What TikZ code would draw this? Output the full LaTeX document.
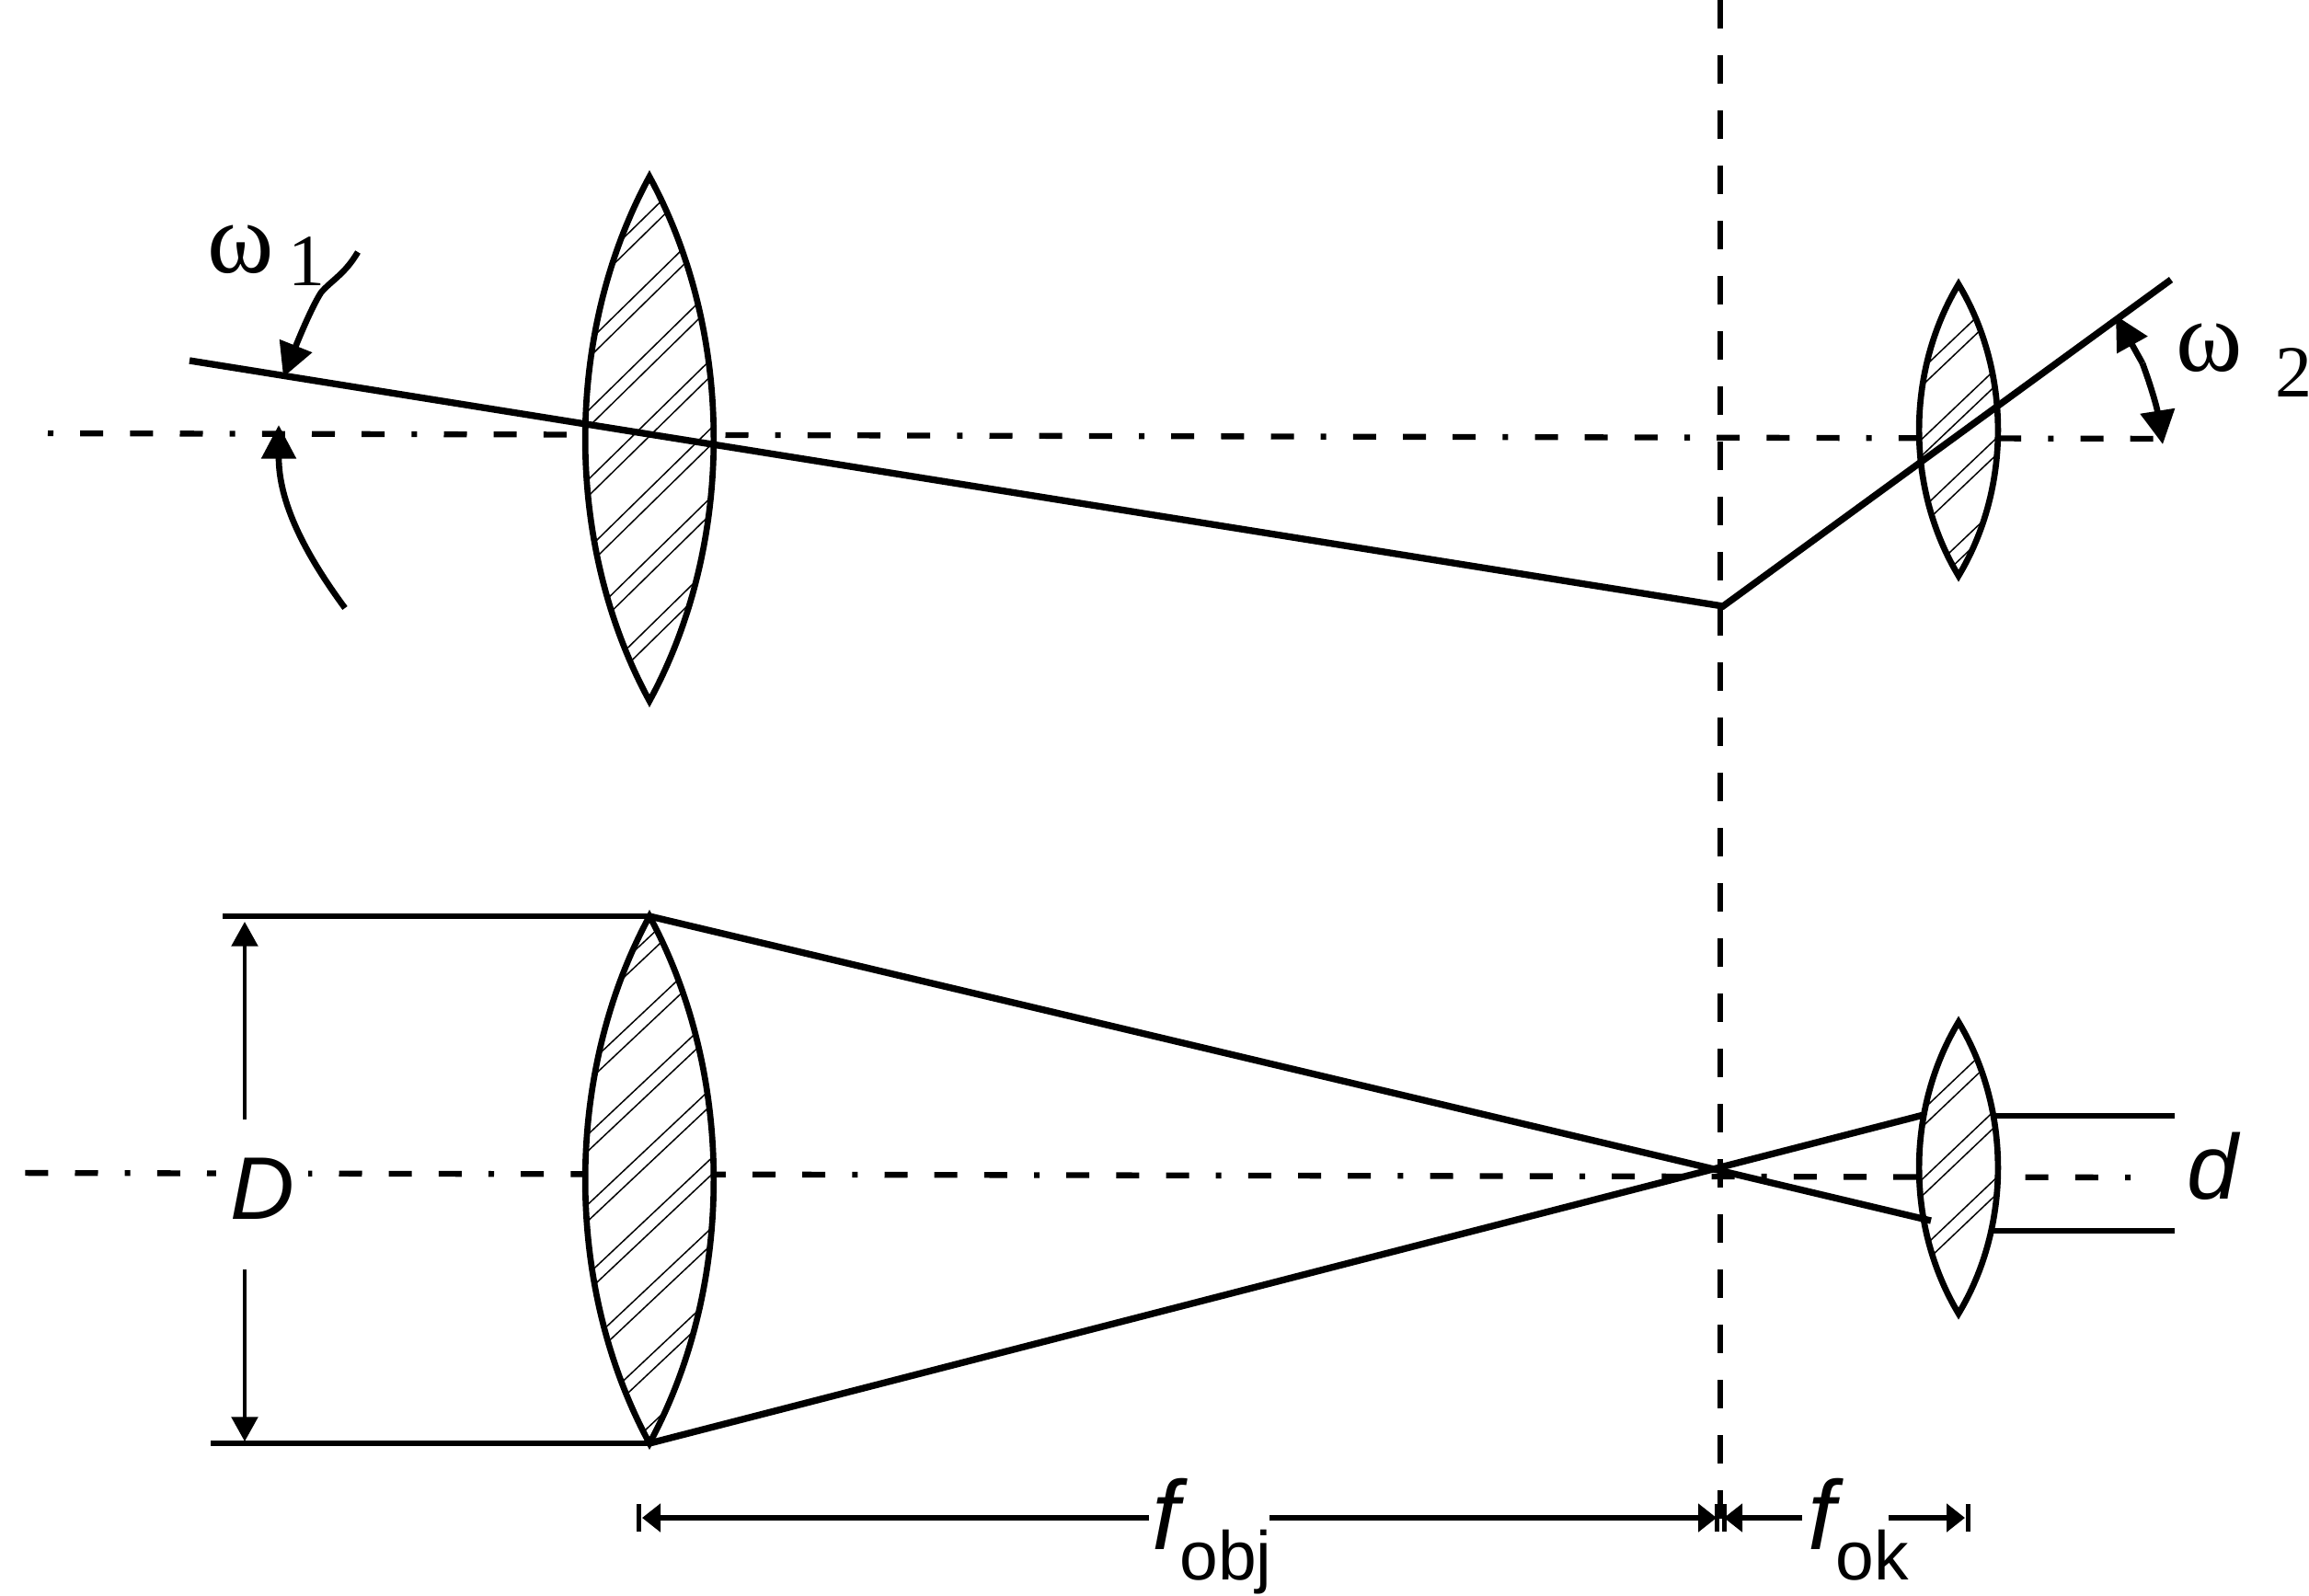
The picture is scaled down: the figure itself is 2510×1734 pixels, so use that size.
\documentclass[tikz,border=0pt]{standalone}
\usepackage{fontspec}
\setmainfont{Liberation Sans}
\newfontfamily\serifgr{Liberation Serif}
\usetikzlibrary{arrows.meta}
\newcommand{\lensoutline}[4]{% x, top, bottom, half width
  (#1,#2) .. controls ({#1-1.33*#4},{#2+0.3*(#3-#2)}) and ({#1-1.33*#4},{#3-0.3*(#3-#2)}) .. (#1,#3)
  .. controls ({#1+1.33*#4},{#3-0.3*(#3-#2)}) and ({#1+1.33*#4},{#2+0.3*(#3-#2)}) .. (#1,#2) -- cycle}
\newcommand{\lensbody}[8]{% x, top, bottom, half width, slope, c0, last c, second c
  \fill[white] \lensoutline{#1}{#2}{#3}{#4};
  \begin{scope}
    \clip \lensoutline{#1}{#2}{#3}{#4};
    \foreach \c in {#6,#8,...,#7} {
      \draw[hatchline] ({#1-100},{\c-#5*(#1-100)}) -- ({#1+100},{\c-#5*(#1+100)});
      \draw[hatchline] ({#1-100},{\c+18-#5*(#1-100)}) -- ({#1+100},{\c+18-#5*(#1+100)});
    }
  \end{scope}
  \draw[lensline] \lensoutline{#1}{#2}{#3}{#4};
}
\tikzset{
  x=0.3pt,y=-0.3pt,
  hatchline/.style={line width=0.45pt,black},
  lensline/.style={line width=2pt,black,line join=miter},
  ray/.style={line width=2.2pt,black,line join=miter},
  beam/.style={line width=2pt,black},
  axisline/.style={line width=1.9pt,black,dash pattern=on 1.8pt off 8.75pt on 7.5pt off 8.75pt on 7.5pt off 8.75pt on 7.5pt off 8.75pt},
  focusline/.style={line width=2pt,black,dash pattern=on 9.3pt off 8.7pt},
  dimline/.style={line width=1.9pt,black},
  dimhead/.style={line width=1.9pt,black,-{Triangle[length=6pt,width=9pt]}},
  dimbar/.style={line width=1.5pt,black},
  darrow/.style={line width=1.3pt,black,-{Triangle[length=8pt,width=8.5pt]}},
  anglearrow/.style={line width=2pt,black,-{Triangle[length=11pt,width=11pt]}},
  lab/.style={inner sep=0pt,text=black},
}
\begin{document}
\begin{tikzpicture}
\useasboundingbox (0,0) rectangle (2510,1734);
\coordinate (fT) at (1870,0);
\coordinate (fB) at (1870,1665);
\coordinate (axTL) at (52,471);
\coordinate (axTR) at (2350,477);
\coordinate (axBL) at (0,1275);
\coordinate (axBR) at (2322,1280);
\draw[focusline] (fT) -- (fB);
\draw[axisline] (axTL) -- (axTR);
\draw[axisline,dash phase=18.6pt] (axBL) -- (axBR);
% lenses
\lensbody{706}{192}{762}{70}{0.98}{923}{1454}{998}
\lensbody{2129}{309}{626}{43}{0.95}{2386}{2614}{2462}
\lensbody{706}{996}{1569}{70}{0.94}{1682}{2218}{1758}
\lensbody{2129}{1111}{1428}{43}{0.95}{3192}{3416}{3267}
% upper ray
\coordinate (rA) at (206,392);
\coordinate (rK) at (1873,659);
\coordinate (rE) at (2360,304);
\draw[ray] (rA) -- (rK) -- (rE);
% beam
\coordinate (bTL) at (242,996);
\coordinate (bTR) at (706,996);
\coordinate (bBL) at (229,1569);
\coordinate (bBR) at (706,1569);
\coordinate (cTE) at (2099,1327);
\coordinate (cBE) at (2091,1212);
\coordinate (oTL) at (2166,1213);
\coordinate (oTR) at (2364,1213);
\coordinate (oBL) at (2166,1338);
\coordinate (oBR) at (2364,1338);
\draw[beam] (bTL) -- (bTR);
\draw[beam] (bBL) -- (bBR);
\draw[ray] (bTR) -- (cTE);
\draw[ray] (bBR) -- (cBE);
\draw[beam] (oTL) -- (oTR);
\draw[beam] (oBL) -- (oBR);
% D dimension
\node[lab,fill=white,inner xsep=4.5pt,inner ysep=3pt,anchor=base] (Dlab) at (285,1325) {\fontsize{29}{29}\selectfont\itshape D};
\coordinate (dU0) at (266,1217);
\coordinate (dU1) at (266,1002);
\coordinate (dL0) at (266,1380);
\coordinate (dL1) at (266,1567);
\draw[darrow] (dU0) -- (dU1);
\draw[darrow] (dL0) -- (dL1);
% angle arrows
\coordinate (w1a) at (389,274);
\coordinate (w1m) at (349,318);
\coordinate (w1t) at (308,410);
\draw[anglearrow] (w1a) .. controls (375,298) and (360,305) .. (w1m) .. controls (338,335) and (322,375) .. (w1t);
\coordinate (w1b) at (375,661);
\coordinate (w1c) at (303,462);
\draw[anglearrow] (w1b) .. controls (330,600) and (303,545) .. (w1c);
\coordinate (w2a) at (2329,395);
\coordinate (w2u) at (2300,343);
\coordinate (w2d) at (2351,483);
\draw[anglearrow] (w2a) .. controls (2340,425) and (2345,445) .. (w2d);
\draw[anglearrow] (w2a) -- (w2u);
% dimension line
\coordinate (dmL) at (698,1650);
\coordinate (dmLg) at (1249,1650);
\coordinate (dmMg) at (1380,1650);
\coordinate (dmC1) at (1866,1650);
\coordinate (dmC2) at (1874,1650);
\coordinate (dmRg) at (1959,1650);
\coordinate (dmOg) at (2053,1650);
\coordinate (dmR) at (2136,1650);
\draw[dimhead] (dmLg) -- (dmL);
\draw[dimhead] (dmMg) -- (dmC1);
\draw[dimhead] (dmRg) -- (dmC2);
\draw[dimhead] (dmOg) -- (dmR);
\draw[dimbar] (694,1635) -- (694,1665);
\draw[dimbar] (dmC1) ++(0,-15) -- ++(0,30);
\draw[dimbar] (dmC2) ++(0,-15) -- ++(0,30);
\draw[dimbar] (2139,1635) -- (2139,1665);
% labels
\node[lab,anchor=base west] (w1) at (225,297) {\serifgr\fontsize{33}{33}\selectfont ω};
\node[lab,anchor=base] (w1s) at (333,310) {\serifgr\fontsize{24}{24}\selectfont 1};
\node[lab,anchor=base west] (w2) at (2365,403) {\serifgr\fontsize{33}{33}\selectfont ω};
\node[lab,anchor=base] (w2s) at (2493,431) {\serifgr\fontsize{24}{24}\selectfont 2};
\node[lab,anchor=base west] (dlab) at (2377,1303) {\fontsize{30}{30}\selectfont\itshape d};
\node[lab,anchor=base west] (fobj) at (1252,1684) {\fontsize{32}{32}\selectfont\itshape f\raisebox{-9.9pt}{\fontsize{22.5}{22.5}\selectfont\upshape obj}};
\node[lab,anchor=base west] (fok) at (1965,1684) {\fontsize{32}{32}\selectfont\itshape f\raisebox{-9.9pt}{\fontsize{22.5}{22.5}\selectfont\upshape ok}};
\end{tikzpicture}
\end{document}
